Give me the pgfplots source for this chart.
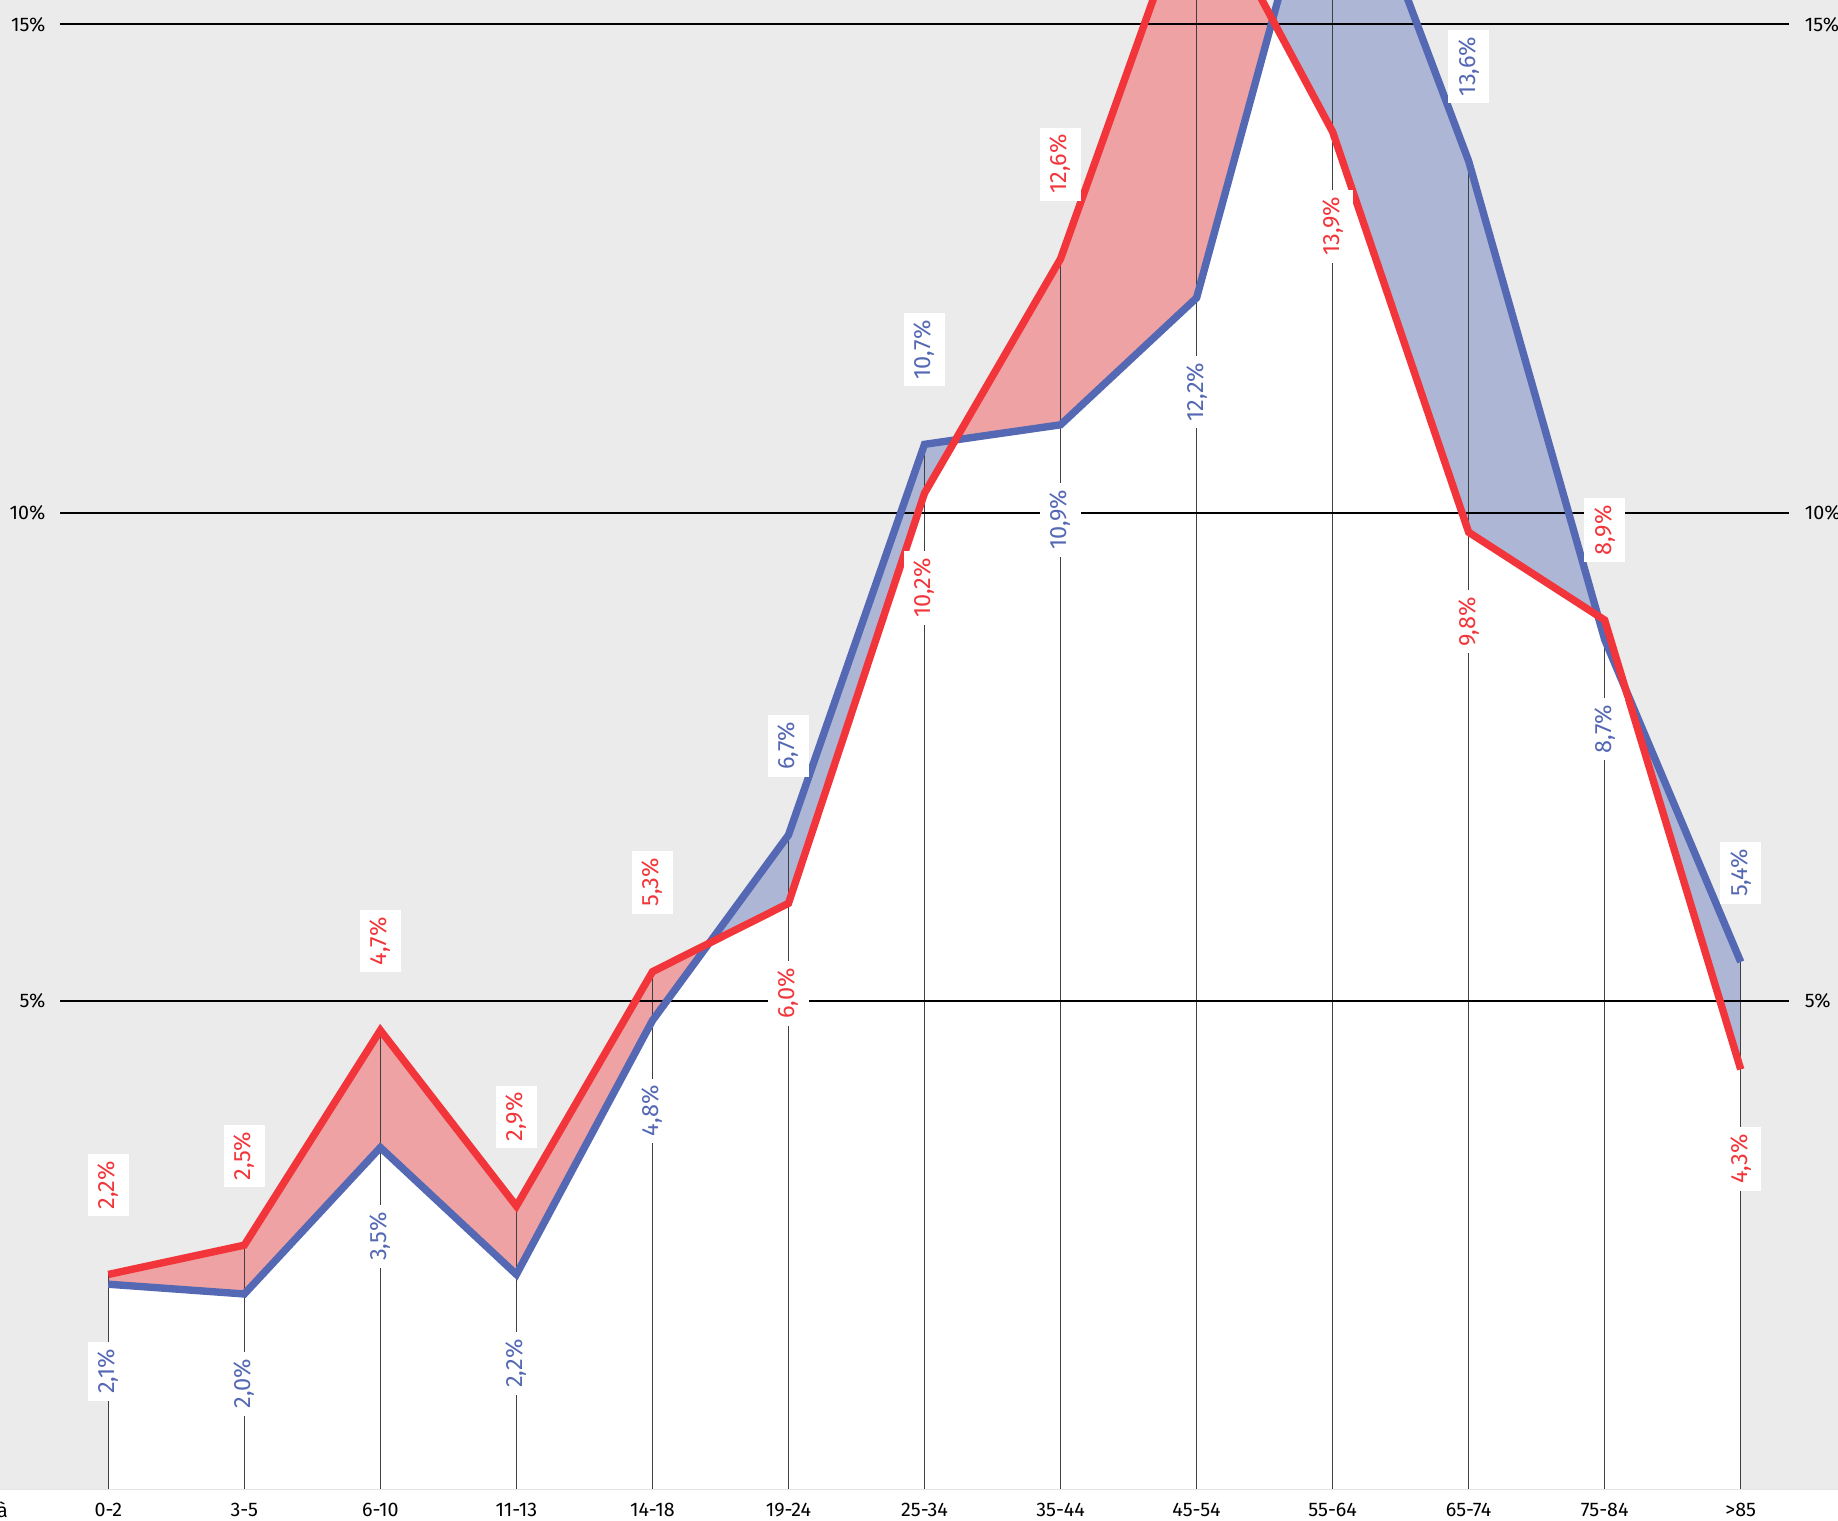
\documentclass[border=0pt]{standalone}
\usepackage{fontspec}
\setmainfont{Fira Sans}
\usepackage{pgfplots}
\pgfplotsset{compat=1.18}
\usepgfplotslibrary{fillbetween}
\usepackage{pgfplotstable}

\definecolor{redline}{HTML}{F2353A}
\definecolor{blueline}{HTML}{5468B3}
\definecolor{redfill}{HTML}{EEA2A4}
\definecolor{bluefill}{HTML}{ADB7D5}
\definecolor{bggray}{HTML}{EBEBEB}

\pgfplotstableread{
x y
0 2.2
1 2.5
2 4.7
3 2.9
4 5.3
5 6.0
6 10.2
7 12.6
8 16.5
9 13.9
10 9.8
11 8.9
12 4.3
}\redtab

\pgfplotstableread{
x y
0 2.1
1 2.0
2 3.5
3 2.2
4 4.8
5 6.7
6 10.7
7 10.9
8 12.2
9 17.3
10 13.6
11 8.7
12 5.4
}\bluetab

\pgfplotstableread{
x y
0 2.2
1 2.5
2 4.7
3 2.9
4 5.3
5 6.7
6 10.7
7 12.6
8 16.5
9 17.3
10 13.6
11 8.9
12 5.4
}\maxtab

% labels: upper = higher series, lower = lower series
\pgfplotstableread{
x y l
0 2.2 2,2
1 2.5 2,5
2 4.7 4,7
3 2.9 2,9
4 5.3 5,3
7 12.6 12,6
11 8.9 8,9
}\redup
\pgfplotstableread{
x y l
5 6.0 6,0
6 10.2 10,2
9 13.9 13,9
10 9.8 9,8
12 4.3 4,3
}\reddown
\pgfplotstableread{
x y l
5 6.7 6,7
6 10.7 10,7
10 13.6 13,6
12 5.4 5,4
}\blueup
\pgfplotstableread{
x y l
0 2.1 2,1
1 2.0 2,0
2 3.5 3,5
3 2.2 2,2
4 4.8 4,8
7 10.9 10,9
8 12.2 12,2
11 8.7 8,7
}\bluedown

\tikzset{
  vlabel/.style={font=\fontsize{6.7}{8}\selectfont, fill=white, inner xsep=0.7mm, inner ysep=1mm, outer sep=0pt},
  uplabel/.style={vlabel, yshift=5.8mm, rotate=90, anchor=west},
  downlabel/.style={vlabel, yshift=-5.8mm, rotate=90, anchor=east},
  ticktext/.style={font=\fontsize{5.6}{6.5}\selectfont, inner sep=0pt},
}

\begin{document}
\begin{tikzpicture}
\begin{axis}[
  set layers,
  scale only axis,
  width=183.8mm, height=148.93mm,
  xmin=-0.796, xmax=12.715,
  ymin=0, ymax=15.25,
  axis line style={draw=none},
  tick style={draw=none},
  ytick=\empty,
  xtick={0,...,12},
  xticklabels={0-2,3-5,6-10,11-13,14-18,19-24,25-34,35-44,45-54,55-64,65-74,75-84,>85},
  xticklabel style={font=\fontsize{5.6}{6.5}\selectfont, anchor=center, yshift=-2.07mm, inner sep=0pt},
  axis background/.style={fill=bggray},
]
\coordinate (bl) at (rel axis cs:0,0);
\coordinate (br) at (rel axis cs:1,0);
\coordinate (tr) at (rel axis cs:1,1);

% invisible paths for fills
\addplot[draw=none, name path=Z, forget plot] coordinates {(0,0) (12,0)};
\addplot[draw=none, name path=R, forget plot] table[x=x,y=y] {\redtab};
\addplot[draw=none, name path=B, forget plot] table[x=x,y=y] {\bluetab};

% white under the curves
\addplot[white, forget plot] fill between[of=R and Z];
\addplot[white, forget plot] fill between[of=B and Z];
% coloured band between the two series
\addplot[redfill, forget plot] fill between[of=R and B, split,
  every even segment/.style={fill=redfill},
  every odd segment/.style={fill=bluefill}];

% vertical drop lines
\addplot[ycomb, black!75, line width=0.4pt, forget plot] table[x=x,y=y] {\maxtab};

% horizontal reference lines
\draw[black, line width=0.55pt] (axis cs:-0.355,5) -- (axis cs:12.358,5);
\draw[black, line width=0.55pt] (axis cs:-0.355,10) -- (axis cs:12.358,10);
\draw[black, line width=0.55pt] (axis cs:-0.355,15) -- (axis cs:12.358,15);
\node[ticktext, anchor=east] at (axis cs:-0.458,5) {5\%};
\node[ticktext, anchor=east] at (axis cs:-0.458,10) {10\%};
\node[ticktext, anchor=east] at (axis cs:-0.458,15) {15\%};
\node[ticktext, anchor=west] at (axis cs:12.466,5) {5\%};
\node[ticktext, anchor=west] at (axis cs:12.466,10) {10\%};
\node[ticktext, anchor=west] at (axis cs:12.466,15) {15\%};

% value labels
\addplot[draw=none, forget plot, point meta=explicit symbolic,
  nodes near coords={\pgfplotspointmeta\%},
  every node near coord/.append style={uplabel, text=redline}]
  table[x=x,y=y,meta=l] {\redup};
\addplot[draw=none, forget plot, point meta=explicit symbolic,
  nodes near coords={\pgfplotspointmeta\%},
  every node near coord/.append style={downlabel, text=redline}]
  table[x=x,y=y,meta=l] {\reddown};
\addplot[draw=none, forget plot, point meta=explicit symbolic,
  nodes near coords={\pgfplotspointmeta\%},
  every node near coord/.append style={uplabel, text=blueline}]
  table[x=x,y=y,meta=l] {\blueup};
\addplot[draw=none, forget plot, point meta=explicit symbolic,
  nodes near coords={\pgfplotspointmeta\%},
  every node near coord/.append style={downlabel, text=blueline}]
  table[x=x,y=y,meta=l] {\bluedown};

% the two series
\addplot[blueline, line width=2.1pt, forget plot] table[x=x,y=y] {\bluetab};
\addplot[redline, line width=2.1pt, forget plot] table[x=x,y=y] {\redtab};
\end{axis}
\draw[black!10, line width=0.3pt] (bl) -- (br);
\node[ticktext, anchor=base east] at ([xshift=0.85mm, yshift=-2.77mm]bl) {Età};
\pgfresetboundingbox
\path[use as bounding box] ([yshift=-3.07mm]bl) rectangle (tr);
\end{tikzpicture}
\end{document}
